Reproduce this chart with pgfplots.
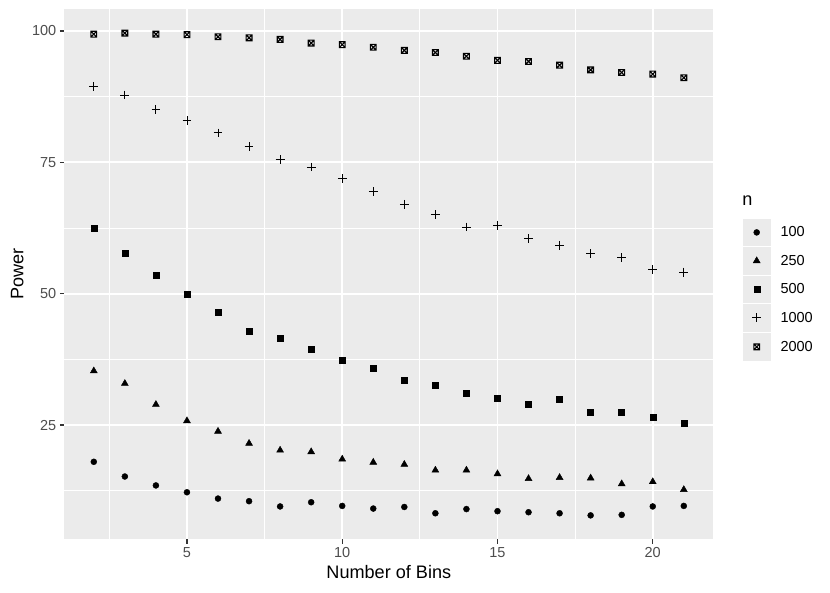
\documentclass[border=0pt]{standalone}
\usepackage{fontspec}
\setmainfont{Liberation Sans}
\usepackage{pgfplots}
\pgfplotsset{compat=1.18}
\definecolor{bggrey}{HTML}{EBEBEB}
\definecolor{grey20}{HTML}{333333}
\definecolor{grey30}{HTML}{4D4D4D}
\pgfdeclareplotmark{boxx}{%
  \pgfpathrectangle{\pgfpoint{-\pgfplotmarksize}{-\pgfplotmarksize}}{\pgfpoint{2\pgfplotmarksize}{2\pgfplotmarksize}}%
  \pgfpathmoveto{\pgfpoint{-\pgfplotmarksize}{-\pgfplotmarksize}}%
  \pgfpathlineto{\pgfpoint{\pgfplotmarksize}{\pgfplotmarksize}}%
  \pgfpathmoveto{\pgfpoint{-\pgfplotmarksize}{\pgfplotmarksize}}%
  \pgfpathlineto{\pgfpoint{\pgfplotmarksize}{-\pgfplotmarksize}}%
  \pgfusepathqstroke}
\pgfplotstableread{
x  a    b    c    d    e
2  18.0 35.3 62.4 89.5 99.4
3  15.2 32.9 57.8 87.8 99.6
4  13.5 28.9 53.5 85.1 99.4
5  12.2 25.8 49.9 82.9 99.3
6  11.0 23.8 46.4 80.6 98.9
7  10.5 21.5 42.8 78.0 98.7
8  9.5  20.2 41.5 75.5 98.4
9  10.3 19.9 39.4 74.1 97.7
10 9.6  18.5 37.4 71.9 97.4
11 9.1  17.9 35.9 69.4 96.9
12 9.4  17.5 33.5 67.0 96.3
13 8.2  16.4 32.6 65.0 95.9
14 9.0  16.4 31.0 62.7 95.2
15 8.6  15.7 30.1 63.0 94.4
16 8.4  14.8 28.9 60.5 94.2
17 8.2  15.0 29.9 59.2 93.5
18 7.8  14.9 27.5 57.6 92.6
19 7.9  13.8 27.4 56.9 92.1
20 9.5  14.2 26.4 54.6 91.8
21 9.6  12.7 25.4 54.1 91.1
}\datatable
\begin{document}
\begin{tikzpicture}
\useasboundingbox (-64.3pt,-53.5pt) rectangle (765.7pt,539.5pt);
\begin{axis}[
  scale only axis,
  width=649pt, height=530.5pt,
  xmin=1.05, xmax=21.95, ymin=3.21, ymax=104.19,
  clip mode=individual,
  xtick={5,10,15,20}, ytick={25,50,75,100},
  minor xtick={2.5,7.5,12.5,17.5}, minor ytick={12.5,37.5,62.5,87.5},
  grid=both,
  major grid style={white, line width=1.9pt},
  minor grid style={white, line width=0.95pt},
  axis background/.style={fill=bggrey},
  axis line style={draw=none},
  tick align=outside,
  major tick length=4.5pt, minor tick length=0pt,
  major tick style={grey20, line width=1.1pt},
  minor tick style={draw=none},
  tick pos=left,
  /pgf/number format/assume math mode=true,
  ticklabel style={font=\fontsize{14.5}{16}\selectfont, text=grey30},
  xlabel={Number of Bins}, ylabel={Power},
  label style={font=\fontsize{18.1}{20}\selectfont},
  xlabel style={at={(axis description cs:0.5,-0.0740)}, anchor=base},
  ylabel style={at={(axis description cs:-0.0632,0.5)}, anchor=base},
  only marks,
  legend style={at={(axis description cs:1.0453,0.6045)}, anchor=north west,
    draw=none, fill=none, inner sep=0pt, row sep=1.6pt,
    font=\fontsize{14.5}{16}\selectfont,
    nodes={inner sep=0pt, anchor=west}},
  legend cell align=left,
  legend image code/.code={%
    \fill[bggrey] (0pt,-13.2pt) rectangle (26.5pt,13.2pt);
    \path (36.5pt,0pt);
    \draw plot coordinates {(13.25pt,0pt)};
  },
]
\addplot[black, mark=*, mark size=3pt] table[x=x,y=a] {\datatable};
\addplot[black, mark=triangle*, mark size=4pt] table[x=x,y=b] {\datatable};
\addplot[black, mark=square*, mark size=3pt] table[x=x,y=c] {\datatable};
\addplot[black, mark=+, mark size=4.4pt, line width=0.9pt] table[x=x,y=d] {\datatable};
\addplot[black, mark=boxx, mark size=2.9pt, line width=1.1pt] table[x=x,y=e] {\datatable};
\legend{100,250,500,1000,2000}
\node[anchor=base west, font=\fontsize{18.1}{20}\selectfont, inner sep=0pt] at (axis description cs:1.0443,0.6305) {n};
\end{axis}
\end{tikzpicture}
\end{document}
